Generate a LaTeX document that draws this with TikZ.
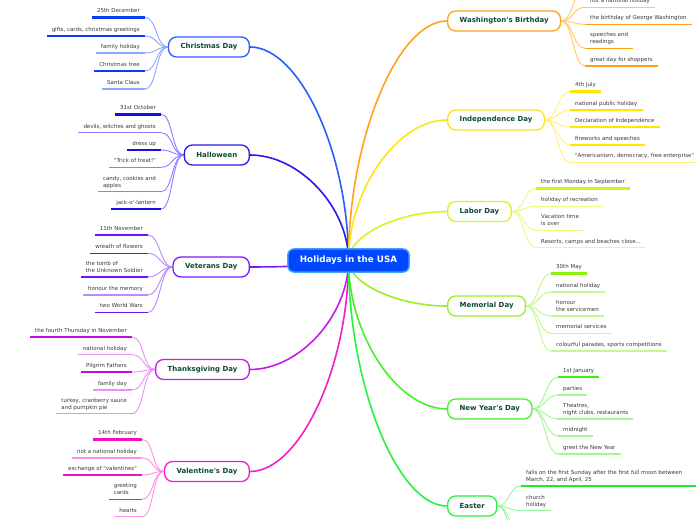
\documentclass[tikz,border=0pt]{standalone}
\usepackage{fontspec}
\usetikzlibrary{calc}
\newfontfamily\dv{DejaVu Sans}[Ligatures=TeXOff]
\newcommand\leaffont{\dv\fontsize{5.5}{6.8}\selectfont}
\newcommand\mainfont{\dv\bfseries\fontsize{7}{8}\selectfont}
\newcommand\rootfont{\dv\bfseries\fontsize{8.8}{10}\selectfont}
\pgfdeclarelayer{bg}\pgfdeclarelayer{conn}\pgfsetlayers{bg,conn,main}
% colours: D dark line, L light line, B border / main connector
\definecolor{leaftext}{HTML}{3A3A3A}
\definecolor{maintext}{HTML}{0D4A3A}
\definecolor{rootfill}{HTML}{0047FF}
\definecolor{rootborder}{HTML}{3DA0FF}
\definecolor{xmD}{HTML}{0A3CF0}\definecolor{xmL}{HTML}{8AA8FF}\definecolor{xmB}{HTML}{2B5CFF}
\definecolor{hwD}{HTML}{1A0AE6}\definecolor{hwL}{HTML}{8A80FF}\definecolor{hwB}{HTML}{2A1AE8}
\definecolor{vtD}{HTML}{7010FF}\definecolor{vtL}{HTML}{B68CFF}\definecolor{vtB}{HTML}{7A1AFF}
\definecolor{thD}{HTML}{C010E0}\definecolor{thL}{HTML}{E890F5}\definecolor{thB}{HTML}{C81AE8}
\definecolor{vaD}{HTML}{F010C0}\definecolor{vaL}{HTML}{FF90E8}\definecolor{vaB}{HTML}{F020C8}
\definecolor{waD}{HTML}{FFA010}\definecolor{waL}{HTML}{FFC860}\definecolor{waB}{HTML}{FFA21E}
\definecolor{inD}{HTML}{FFE600}\definecolor{inL}{HTML}{FFF07A}\definecolor{inB}{HTML}{FFE31A}
\definecolor{laD}{HTML}{D6F510}\definecolor{laL}{HTML}{E8FA80}\definecolor{laB}{HTML}{D6F51E}
\definecolor{meD}{HTML}{8CF010}\definecolor{meL}{HTML}{C4F890}\definecolor{meB}{HTML}{96F02A}
\definecolor{nyD}{HTML}{3CF010}\definecolor{nyL}{HTML}{A0F890}\definecolor{nyB}{HTML}{46F02A}
\definecolor{esD}{HTML}{14F028}\definecolor{esL}{HTML}{90F8A0}\definecolor{esB}{HTML}{2AF040}
\def\tk{2.6bp}\def\nm{1.1bp}
\tikzset{
  leaf/.style={font=\leaffont, text=leaftext, inner xsep=5bp, inner ysep=2.3bp, align=left},
  lc/.style={line width=0.9bp},
  mn/.style={line width=1.3bp, fill=white, rounded corners=8bp, minimum height=20bp,
             inner xsep=12bp, inner ysep=0pt, font=\mainfont, text=maintext},
  rootbox/.style={fill=rootfill, draw=rootborder, line width=1.5bp, rounded corners=6bp,
             minimum height=23bp, inner xsep=12bp, inner ysep=0pt, text=white, font=\rootfont},
  mc/.style={line width=1.6bp}
}
% left leaf: name parent x y linecolour width conncolour text
\newcommand\leafL[8]{%
  \node[leaf,anchor=south east] (#1) at (#3,#4) {#8\strut};
  \draw[#5,line width=#6] (#1.south west) -- (#1.south east);
  \begin{pgfonlayer}{conn}
  \draw[lc,#7] (#1.south east) .. controls +(12,0) and +(-12,0) .. (#2.west);
  \end{pgfonlayer}}
\newcommand\leafR[8]{%
  \node[leaf,anchor=south west] (#1) at (#3,#4) {#8\strut};
  \draw[#5,line width=#6] (#1.south west) -- (#1.south east);
  \begin{pgfonlayer}{conn}
  \draw[lc,#7] (#2.east) .. controls +(12,0) and +(-12,0) .. (#1.south west);
  \end{pgfonlayer}}
\newcommand\mainL[2]{% node colour
  \begin{pgfonlayer}{conn}
  \draw[mc,#2] (#1.east) .. controls ($(#1.east)+(50,0)$) and ($(root.center)!0.5!(root.center |- #1.east)$) .. (root.center);
  \end{pgfonlayer}}
\newcommand\mainR[2]{%
  \begin{pgfonlayer}{conn}
  \draw[mc,#2] (#1.west) .. controls ($(#1.west)+(-50,0)$) and ($(root.center)!0.5!(root.center |- #1.west)$) .. (root.center);
  \end{pgfonlayer}}
\begin{document}
\begin{tikzpicture}[x=1bp,y=-1bp]
\begin{pgfonlayer}{bg}
\fill[white] (0,0) rectangle (696,520);
\end{pgfonlayer}
\useasboundingbox (0,0) rectangle (696,520);

\node[rootbox] (root) at (348.5,260.5) {Holidays in the USA};

% main nodes
\node[mn,draw=xmB,anchor=east] (xmas) at (250,47) {Christmas Day};
\node[mn,draw=hwB,anchor=east] (hall) at (250,155) {Halloween};
\node[mn,draw=vtB,anchor=east] (vet) at (250,267) {Veterans Day};
\node[mn,draw=thB,anchor=east] (thx) at (250,369.5) {Thanksgiving Day};
\node[mn,draw=vaB,anchor=east] (val) at (250,471.5) {Valentine's Day};
\node[mn,draw=waB,anchor=west] (wash) at (447,21) {Washington's Birthday};
\node[mn,draw=inB,anchor=west] (ind) at (447,120) {Independence Day};
\node[mn,draw=laB,anchor=west] (lab) at (447,211.5) {Labor Day};
\node[mn,draw=meB,anchor=west] (mem) at (447,306) {Memorial Day};
\node[mn,draw=nyB,anchor=west] (ny) at (447,409) {New Year's Day};
\node[mn,draw=esB,anchor=west] (eas) at (447,506) {Easter};

\mainL{xmas}{xmB}\mainL{hall}{hwB}\mainL{vet}{vtB}\mainL{thx}{thB}\mainL{val}{vaB}
\mainR{wash}{waB}\mainR{ind}{inB}\mainR{lab}{laB}\mainR{mem}{meB}\mainR{ny}{nyB}\mainR{eas}{esB}

% Christmas
\leafL{xm1}{xmas}{145}{17.5}{xmD}{\tk}{xmL}{25th December}
\leafL{xm2}{xmas}{145}{36}{xmD}{\nm}{xmL}{gifts, cards, christmas greetings}
\leafL{xm3}{xmas}{145}{53}{xmL}{\nm}{xmL}{family holiday}
\leafL{xm4}{xmas}{145}{71}{xmD}{\nm}{xmL}{Christmas tree}
\leafL{xm5}{xmas}{145}{89}{xmL}{\nm}{xmL}{Santa Claus}
% Halloween
\leafL{hw1}{hall}{161}{114.3}{hwD}{\tk}{hwL}{31st October}
\leafL{hw2}{hall}{161}{132.7}{hwL}{\nm}{hwL}{devils, witches and ghosts}
\leafL{hw3}{hall}{161}{150}{hwD}{\nm}{hwL}{dress up}
\leafL{hw4}{hall}{161}{167.3}{hwL}{\nm}{hwL}{"Trick of treat!"}
\leafL{hw5}{hall}{161}{191.7}{hwL}{\nm}{hwL}{candy, cookies and\\apples}
\leafL{hw6}{hall}{161}{209}{hwD}{\nm}{hwL}{jack-o'-lantern}
% Veterans
\leafL{vt1}{vet}{148}{235}{vtD}{\tk}{vtL}{11th November}
\leafL{vt2}{vet}{148}{253.3}{vtD}{\nm}{vtL}{wreath of flowers}
\leafL{vt3}{vet}{148}{277}{vtD}{\nm}{vtL}{the tomb of\\the Unknown Soldier}
\leafL{vt4}{vet}{148}{295}{vtL}{1.6bp}{vtL}{honour the memory}
\leafL{vt5}{vet}{148}{312.3}{vtD}{\nm}{vtL}{two World Wars}
% Thanksgiving
\leafL{th1}{thx}{132}{337}{thD}{\nm}{thL}{the fourth Thursday in November}
\leafL{th2}{thx}{132}{354.7}{thL}{1.4bp}{thL}{national holiday}
\leafL{th3}{thx}{132}{372}{thD}{\nm}{thL}{Pilgrim Fathers}
\leafL{th4}{thx}{132}{390}{thL}{1.4bp}{thL}{family day}
\leafL{th5}{thx}{132}{413.7}{thL}{1.4bp}{thL}{turkey, cranberry sauce\\and pumpkin pie}
% Valentine
\leafL{va1}{val}{142}{439.3}{vaD}{\tk}{vaL}{14th February}
\leafL{va2}{val}{142}{458}{vaL}{1.4bp}{vaL}{not a national holiday}
\leafL{va3}{val}{142}{475}{vaD}{\nm}{vaL}{exchange of "valentines"}
\leafL{va4}{val}{142}{499.3}{vaD}{\nm}{vaL}{greeting\\cards}
\leafL{va5}{val}{142}{516.7}{vaL}{1.4bp}{vaL}{hearts}
% Washington
\coordinate (wa0) at (585,-11);
\begin{pgfonlayer}{conn}
\draw[lc,waL] (wash.east) .. controls +(12,0) and +(-12,0) .. (wa0);
\end{pgfonlayer}
\leafR{wa1}{wash}{585}{7.3}{waL}{1.4bp}{waL}{not a national holiday}
\leafR{wa2}{wash}{585}{24.3}{waD}{\nm}{waL}{the birthday of George Washington}
\leafR{wa3}{wash}{585}{48.3}{waD}{\nm}{waL}{speeches and\\readings}
\leafR{wa4}{wash}{585}{66}{waD}{\nm}{waL}{great day for shoppers}
% Independence
\leafR{in1}{ind}{570}{91.3}{inD}{\tk}{inL}{4th July}
\leafR{in2}{ind}{570}{110}{inD}{\nm}{inL}{national public holiday}
\leafR{in3}{ind}{570}{127}{inD}{\nm}{inL}{Declaration of Independence}
\leafR{in4}{ind}{570}{145}{inD}{\nm}{inL}{fireworks and speeches}
\leafR{in5}{ind}{570}{162.3}{inL}{1.4bp}{inL}{"Americanism, democracy, free enterprise"}
% Labor
\leafR{la1}{lab}{536}{188.3}{laD}{\tk}{laL}{the first Monday in September}
\leafR{la2}{lab}{536}{206.3}{laL}{1.4bp}{laL}{holiday of recreation}
\leafR{la3}{lab}{536}{230.3}{laL}{1.4bp}{laL}{Vacation time\\is over}
\leafR{la4}{lab}{536}{247.7}{laL}{1.4bp}{laL}{Resorts, camps and beaches close...}
% Memorial
\leafR{me1}{mem}{551}{273.3}{meD}{\tk}{meL}{30th May}
\leafR{me2}{mem}{551}{292}{meL}{1.4bp}{meL}{national holiday}
\leafR{me3}{mem}{551}{316}{meL}{1.4bp}{meL}{honour\\the servicemen}
\leafR{me4}{mem}{551}{333.3}{meL}{1.4bp}{meL}{memorial services}
\leafR{me5}{mem}{551}{351}{meL}{1.4bp}{meL}{colourful parades, sports competitions}
% New Year
\leafR{ny1}{ny}{558}{377}{nyD}{\tk}{nyL}{1st January}
\leafR{ny2}{ny}{558}{395}{nyL}{1.4bp}{nyL}{parties}
\leafR{ny3}{ny}{558}{419}{nyL}{1.4bp}{nyL}{Theatres,\\night clubs, restaurants}
\leafR{ny4}{ny}{558}{436}{nyL}{1.4bp}{nyL}{midnight}
\leafR{ny5}{ny}{558}{454}{nyL}{1.4bp}{nyL}{greet the New Year}
% Easter
\node[leaf,anchor=south west] (es1) at (521,486) {falls on the first Sunday after the first full moon between\\March, 22, and April, 25\strut};
\draw[esD,line width=\tk] (es1.south west) -- (es1.south west -| 700,0);
\begin{pgfonlayer}{conn}
\draw[lc,esL] (eas.east) .. controls +(12,0) and +(-12,0) .. (es1.south west);
\end{pgfonlayer}
\leafR{es2}{eas}{521}{510.7}{esL}{1.4bp}{esL}{church\\holiday}
\coordinate (es3) at (521,532);
\coordinate (es4) at (521,548);
\begin{pgfonlayer}{conn}
\draw[lc,esL] (eas.east) .. controls +(12,0) and +(-12,0) .. (es3);
\draw[lc,esL] (eas.east) .. controls +(12,0) and +(-12,0) .. (es4);
\end{pgfonlayer}
\end{tikzpicture}
\end{document}
